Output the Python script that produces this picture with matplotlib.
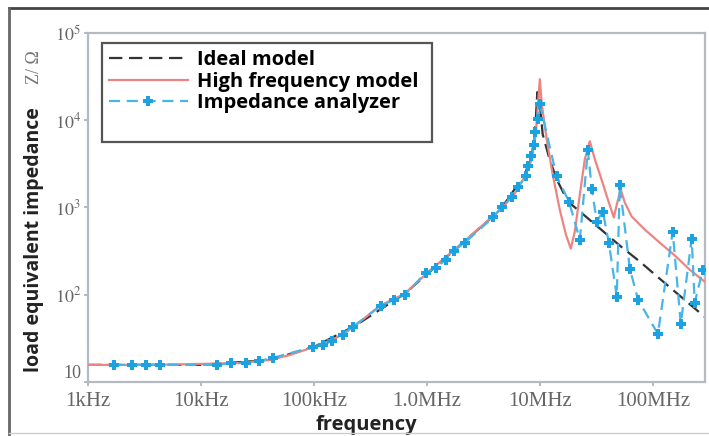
import matplotlib
matplotlib.use("Agg")
import matplotlib.pyplot as plt
from matplotlib.lines import Line2D
from matplotlib.ticker import NullLocator

plt.rcParams['mathtext.fontset'] = 'stix'

# ideal model
f_ideal = [1e3, 1e4, 4.08e4, 1e5, 2.31e5, 6.38e5, 1.77e6, 4.43e6, 7.36e6, 8.5e6, 9.04e6,
           9.5e6, 1.0e7, 1.06e7, 1.22e7, 1.41e7, 1.77e7, 2.26e7, 3.4e7, 5.1e7, 7.7e7,
           1.15e8, 1.73e8, 2.88e8]
z_ideal = [15.7, 15.7, 17.9, 25.2, 44.0, 103, 329, 924, 2390, 4060, 6900,
           21000, 15300, 6900, 3560, 2100, 1171, 899, 574, 366, 239,
           153, 97.5, 55.8]

# high frequency model
f_hf = [1e3, 3.54e3, 1e4, 2.21e4, 4.08e4, 6.14e4, 1e5, 1.53e5, 2.31e5, 3.84e5, 6.38e5,
        1.06e6, 1.77e6, 2.94e6, 4.43e6, 6.01e6, 7.36e6, 8.5e6, 9.2e6, 1.0e7, 1.04e7,
        1.15e7, 1.3e7, 1.5e7, 1.7e7, 1.88e7, 2.04e7, 2.26e7, 2.5e7, 2.77e7, 3.07e7,
        3.47e7, 4.0e7, 4.52e7, 4.8e7, 5.2e7, 5.65e7, 6.5e7, 8.5e7, 1.15e8, 1.57e8,
        2.12e8, 2.88e8]
z_hf = [15.7, 15.7, 16.1, 16.5, 17.9, 20.4, 25.2, 31.2, 44.0, 74.8, 103,
        189, 329, 589, 924, 1449, 2270, 3560, 6900, 29600, 15300,
        6050, 2390, 948, 490, 338, 530, 1410, 3560, 5740, 3560,
        2210, 1236, 768, 1081, 1610, 1140, 789, 558, 396, 281,
        194, 141]

# impedance analyzer measurement
f_meas = [1.7e3, 2.45e3, 3.26e3, 4.33e3, 1.39e4, 1.84e4, 2.5e4, 3.26e4, 4.33e4, 9.8e4,
          1.2e5, 1.44e5, 1.81e5, 2.21e5, 3.92e5, 5.1e5, 6.4e5, 9.8e5, 1.2e6, 1.47e6,
          1.73e6, 2.17e6, 3.84e6, 4.61e6, 5.65e6, 6.38e6, 7.5e6, 7.8e6, 8.3e6, 8.85e6,
          9.0e6, 9.6e6, 1.0e7, 1.41e7, 1.81e7, 2.26e7, 2.66e7, 2.89e7, 3.19e7, 3.61e7,
          4.08e7, 4.8e7, 5.1e7, 6.26e7, 7.4e7, 1.11e8, 1.5e8, 1.77e8, 2.21e8, 2.35e8,
          2.77e8]
z_meas = [15.7, 15.7, 15.7, 15.7, 15.7, 16.5, 16.5, 17.4, 18.9, 25.2,
          26.6, 29.6, 34.7, 42.9, 74.8, 87.7, 100, 179, 204, 252,
          320, 396, 768, 1026, 1303, 1698, 2270, 2958, 3855, 5160,
          7280, 10260, 15270, 2270, 1171, 428, 4520, 1610, 690, 899,
          396, 94.9, 1790, 199, 87.7, 35.6, 530, 46.4, 440, 80.9,
          194]

x_ticks = [1e3, 1e4, 1e5, 1e6, 1e7, 1e8]
x_labels = ['1kHz', '10kHz', '100kHz', '1.0MHz', '10MHz', '100MHz']
y_ticks = [1e1, 1e2, 1e3, 1e4, 1e5]
y_labels = ['10', '$10^2$', '$10^3$', '$10^4$', '$10^5$']

fig = plt.figure(figsize=(7.09, 4.36), dpi=100)
ax = fig.add_axes([0.1241, 0.1239, 0.8703, 0.8004])

ax.plot(f_ideal, z_ideal, color='#333333', lw=1.6, dashes=(6, 3), zorder=2,
        label='Ideal model')
ax.plot(f_hf, z_hf, color='#ec8582', lw=1.6, zorder=3, label='High frequency model')
ax.plot(f_meas, z_meas, color='#47b5e8', lw=1.6, dashes=(5, 3), marker='P',
        markersize=7, markerfacecolor='#1ca2e0', markeredgewidth=0, zorder=4,
        label='Impedance analyzer')
ax.plot([], [], color='none', label=' ')

ax.set_xscale('log')
ax.set_yscale('log')
ax.set_xlim(1e3, 2.9e8)
ax.set_ylim(10, 1e5)
ax.set_xticks(x_ticks)
ax.set_xticklabels(x_labels, family='Liberation Serif', fontsize=15, color='#666666')
ax.set_yticks(y_ticks)
ax.set_yticklabels(y_labels, family='Liberation Serif', fontsize=13, color='#666666')
ax.get_yticklabels()[0].set_verticalalignment('bottom')
ax.xaxis.set_minor_locator(NullLocator())
ax.yaxis.set_minor_locator(NullLocator())
ax.tick_params(length=3, width=1.2, color='#a8aeb8', pad=2)
ax.tick_params(axis='x', pad=4)
for s in ax.spines.values():
    s.set_color('#b4b9c2')
    s.set_linewidth(1.6)

ax.set_xlabel('frequency', family='Open Sans', fontweight='bold', fontsize=14.5,
              color='#222222')
ax.xaxis.set_label_coords(0.452, -0.095)
fig.text(0.048, 0.45, 'load equivalent impedance', rotation=90, ha='center', va='center',
         family='Open Sans', fontweight='bold', fontsize=14, color='#222222')
fig.text(0.048, 0.846, 'Z/ Ω', rotation=90, ha='center', va='center',
         family='Liberation Serif', fontsize=13, color='#777777')

leg = ax.legend(loc='upper left', bbox_to_anchor=(0.0227, 0.5, 0.535, 0.471),
                mode='expand', borderaxespad=0,
                prop={'family': 'Open Sans', 'weight': 'bold', 'size': 14.5},
                handlelength=3.9, labelspacing=0.08, fancybox=False, framealpha=1,
                borderpad=0.35, handletextpad=0.45)
leg.get_frame().set_edgecolor('#555555')
leg.get_frame().set_linewidth(1.6)

# outer frame of the picture
fig.add_artist(Line2D([0.0127, 1.0], [0.9817, 0.9817], transform=fig.transFigure,
                      color='#444444', lw=2))
fig.add_artist(Line2D([0.0127, 0.0127], [0.0, 0.9817], transform=fig.transFigure,
                      color='#666666', lw=2))
fig.add_artist(Line2D([0.0127, 1.0], [0.007, 0.007], transform=fig.transFigure,
                      color='#cccccc', lw=1))

fig.savefig('out.png', dpi=100)
